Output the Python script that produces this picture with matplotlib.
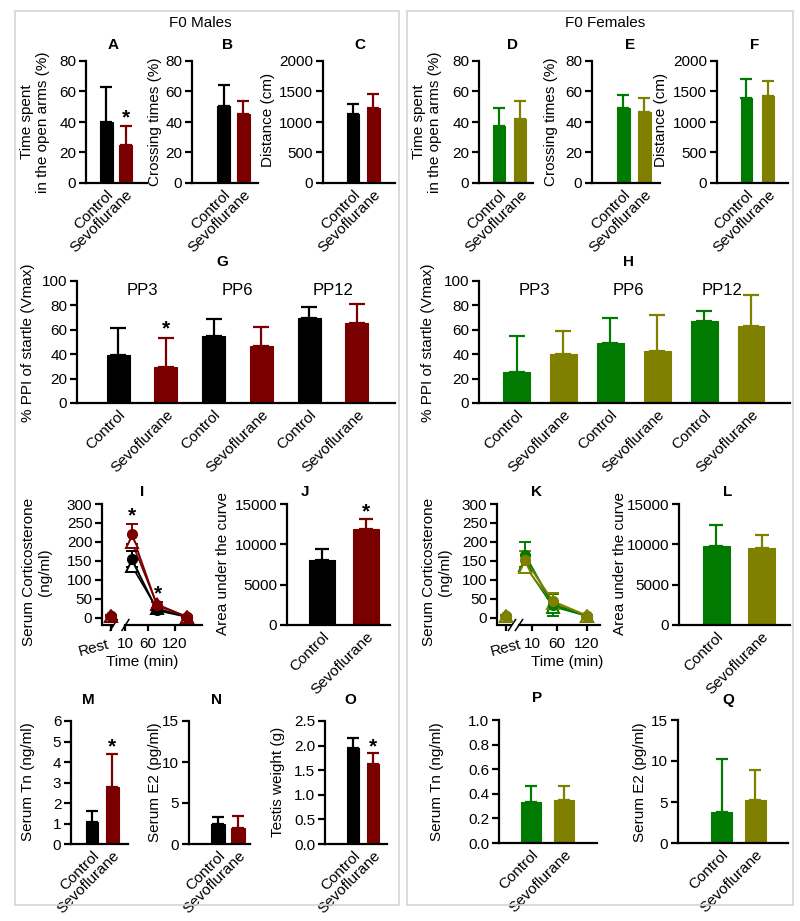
import matplotlib
matplotlib.use('Agg')
import matplotlib.pyplot as plt
from matplotlib.patches import Rectangle
import numpy as np

plt.rcParams['font.family'] = ['Liberation Sans', 'DejaVu Sans']
FS = 11
TFS = 11
plt.rcParams['font.size'] = FS

W, H = 800, 921
fig = plt.figure(figsize=(W / 100, H / 100), dpi=100)

BLACK = '#000000'
RED = '#7a0000'
GREEN = '#007a00'
OLIVE = '#7f7f00'

groups = ['Control', 'Sevoflurane']
groups6 = ['Control', 'Sevoflurane'] * 3
pp_labels = ['PP3', 'PP6', 'PP12']

# ---------------- data ----------------
a_mean = [39.8, 24.7]; a_err = [23.2, 12.7]
b_mean = [50.8, 45.1]; b_err = [13.2, 8.7]
c_mean = [1126, 1230]; c_err = [164, 234]
d_mean = [37.2, 41.7]; d_err = [12.2, 12.3]
e_mean = [49.0, 46.8]; e_err = [8.7, 8.9]
f_mean = [1388, 1421]; f_err = [317, 257]
g_mean = [39.4, 29.1, 54.9, 46.5, 69.8, 65.8]
g_err = [21.7, 24.4, 13.6, 15.5, 8.7, 15.2]
h_mean = [25.0, 40.5, 49.5, 42.7, 67.1, 63.0]
h_err = [30.2, 18.7, 20.1, 29.6, 8.4, 25.3]
j_mean = [8080, 11900]; j_err = [1320, 1200]
l_mean = [9820, 9530]; l_err = [2580, 1670]
m_mean = [1.07, 2.79]; m_err = [0.53, 1.62]
n_mean = [2.4, 2.0]; n_err = [0.84, 1.4]
o_mean = [1.96, 1.62]; o_err = [0.19, 0.22]
p_mean = [0.33, 0.35]; p_err = [0.135, 0.115]
q_mean = [3.77, 5.2]; q_err = [6.43, 3.7]

i_time = [-22, 24, 80, 147]
i_ctrl_mean = [5, 155, 20, 3]
i_ctrl_err = [3, 21, 6, 2]
i_sevo_mean = [5, 221, 33, 3]
i_sevo_err = [3, 26, 8, 2]
i_ctrl_tri = [4, 137, 25, 3]
i_sevo_tri = [4, 200, 36, 3]

k_time = [-42, -4, 52, 120]
k_ctrl_mean = [5, 166, 34, 6]
k_ctrl_err = [3, 33, 28, 3]
k_sevo_mean = [5, 153, 44, 6]
k_sevo_err = [3, 22, 22, 3]
k_ctrl_tri = [4, 139, 30, 5]
k_sevo_tri = [4, 135, 40, 5]

time_ticks = [10, 60, 120]


# ---------------- helpers ----------------
def px_axes(l, t, r, b):
    return fig.add_axes([l / W, 1 - b / H, (r - l) / W, (b - t) / H])


def ftext(x, y, s, **kw):
    fig.text(x / W, 1 - y / H, s, ha='center', va='center', **kw)


def style(ax):
    for s in ('top', 'right'):
        ax.spines[s].set_visible(False)
    for s in ('left', 'bottom'):
        ax.spines[s].set_linewidth(1.6)
    ax.tick_params(axis='y', direction='out', length=5, width=1.6,
                   labelsize=TFS, pad=2)
    ax.tick_params(axis='x', length=0, labelsize=TFS, pad=3)
    ax.patch.set_alpha(0)


def star(ax, x, y):
    ax.text(x, y, '*', ha='center', va='center', fontsize=15,
            fontweight='bold', clip_on=False)


def bar_panel(box, xlim, width, means, errs, colors, ylim, yticks,
              labels, capsize=4, yticklabels=None):
    ax = px_axes(*box)
    x = np.arange(len(means))
    ax.bar(x, means, width, color=colors, edgecolor=colors, linewidth=0.8,
           zorder=2)
    for xi, m, e, c in zip(x, means, errs, colors):
        ax.errorbar([xi], [m], yerr=[[0], [e]], fmt='none', ecolor=c,
                    elinewidth=1.6, capsize=capsize, capthick=1.6, zorder=1,
                    clip_on=False)
    ax.set_xlim(*xlim)
    ax.set_ylim(*ylim)
    ax.set_yticks(yticks)
    if yticklabels is not None:
        ax.set_yticklabels(yticklabels)
    style(ax)
    ax.set_xticks(x)
    ax.set_xticklabels(labels, rotation=45, ha='right',
                       rotation_mode='anchor')
    return ax


def line_panel(box, xlim, ylim, times, series, rest_ha, break_segs):
    ax = px_axes(*box)
    for mean, err, tri, col in series:
        ax.plot(times[1:], tri[1:], color=col, lw=1.2, zorder=2)
        ax.plot(times[1:], mean[1:], color=col, lw=1.4, zorder=3)
        ax.errorbar(times, mean, yerr=err, fmt='none', ecolor=col,
                    elinewidth=1.4, capsize=4, capthick=1.4, zorder=3)
        ax.plot(times, tri, linestyle='none', marker='^', markersize=8,
                markerfacecolor='white', markeredgecolor=col,
                markeredgewidth=1.4, zorder=4)
        ax.plot(times, mean, linestyle='none', marker='o', markersize=7,
                color=col, zorder=5)
    ax.set_xlim(*xlim)
    ax.set_ylim(*ylim)
    ax.set_yticks(np.arange(0, 301, 50))
    style(ax)
    ax.tick_params(axis='x', length=4, width=1.6, pad=5)
    ax.set_xticks([times[0]] + time_ticks)
    ax.set_xticklabels(['Rest'] + [str(t) for t in time_ticks])
    lab = ax.get_xticklabels()[0]
    lab.set_rotation(15)
    lab.set_ha(rest_ha)
    lab.set_va('top')
    # broken x-axis
    (s0, s1), (l0, l1) = break_segs
    ax.spines['bottom'].set_bounds(l0, l1)
    y0 = ylim[0]
    ax.plot([s0, s1], [y0, y0], color='k', lw=1.6, clip_on=False,
            solid_capstyle='butt')
    dx = (xlim[1] - xlim[0]) * 0.035
    dy = (ylim[1] - ylim[0]) * 0.045
    for xb in (s1, l0):
        ax.plot([xb - dx, xb + dx], [y0 - dy, y0 + dy], color='k', lw=1.1,
                clip_on=False)
    return ax


# ---------------- boxes ----------------
for (l, r) in [(15, 399), (407, 793)]:
    fig.add_artist(Rectangle((l / W, 1 - 905 / H), (r - l) / W, (905 - 11) / H,
                             transform=fig.transFigure, fill=False,
                             edgecolor='#d4d4d4', lw=1.2))
ftext(200, 23, 'F0 Males', fontsize=FS)
ftext(605, 23, 'F0 Females', fontsize=FS)

# ---------------- top row ----------------
mc = [BLACK, RED]
fc = [GREEN, OLIVE]
ax = bar_panel((86, 61, 147, 183), (-1.03, 2.1), 0.67, a_mean, a_err, mc,
               (0, 80), range(0, 81, 20), groups)
star(ax, 1, 42.5)
ax = bar_panel((192, 61, 258, 183), (-1.58, 1.73), 0.65, b_mean, b_err, mc,
               (0, 80), range(0, 81, 20), groups)
ax = bar_panel((323, 61, 395, 183), (-1.46, 2.05), 0.6, c_mean, c_err, mc,
               (0, 2000), range(0, 2001, 500), groups)
ax = bar_panel((479, 61, 533, 183), (-0.95, 1.62), 0.6, d_mean, d_err, fc,
               (0, 80), range(0, 81, 20), groups)
ax = bar_panel((592, 61, 660, 183), (-1.48, 1.76), 0.62, e_mean, e_err, fc,
               (0, 80), range(0, 81, 20), groups)
ax = bar_panel((717, 61, 788, 183), (-1.37, 1.93), 0.55, f_mean, f_err, fc,
               (0, 2000), range(0, 2001, 500), groups)

for t, x in zip('ABCDEF', [113, 228, 360, 513, 630, 755]):
    ftext(x, 45, t, fontsize=FS, fontweight='bold')
ftext(35, 122, 'Time spent\nin the open arms (%)', rotation=90, fontsize=FS,
      linespacing=1.15)
ftext(155, 122, 'Crossing times (%)', rotation=90, fontsize=FS)
ftext(268, 120, 'Distance (cm)', rotation=90, fontsize=FS)
ftext(427, 122, 'Time spent\nin the open arms (%)', rotation=90, fontsize=FS,
      linespacing=1.15)
ftext(551, 122, 'Crossing times (%)', rotation=90, fontsize=FS)
ftext(661, 120, 'Distance (cm)', rotation=90, fontsize=FS)

# ---------------- G / H ----------------
ax = bar_panel((77, 281, 395, 403), (-0.86, 5.8), 0.48, g_mean, g_err, mc * 3,
               (0, 100), range(0, 101, 20), groups6, capsize=6)
for i, s in enumerate(pp_labels):
    ax.text(2 * i + 0.5, 92, s, ha='center', va='center', fontsize=12)
star(ax, 1, 60.5)
ax = bar_panel((479, 281, 790, 403), (-0.8, 5.83), 0.57, h_mean, h_err, fc * 3,
               (0, 100), range(0, 101, 20), groups6, capsize=6)
for i, s in enumerate(pp_labels):
    ax.text(2 * i + 0.38, 92, s, ha='center', va='center', fontsize=12)
ftext(222, 262, 'G', fontsize=FS, fontweight='bold')
ftext(628, 262, 'H', fontsize=FS, fontweight='bold')
ftext(28, 343, '% PPI of startle (Vmax)', rotation=90, fontsize=FS)
ftext(428, 343, '% PPI of startle (Vmax)', rotation=90, fontsize=FS)

# ---------------- I / J / K / L ----------------
ax = line_panel((102, 504, 202, 625), (-42, 180), (-18.5, 300), i_time,
                [(i_ctrl_mean, i_ctrl_err, i_ctrl_tri, BLACK),
                 (i_sevo_mean, i_sevo_err, i_sevo_tri, RED)],
                'right', ((-42, -16), (10, 180)))
star(ax, i_time[1], 268)
star(ax, i_time[2] + 3, 64)
ax = line_panel((497, 504, 600, 625), (-60, 146), (-18.5, 300), k_time,
                [(k_ctrl_mean, k_ctrl_err, k_ctrl_tri, GREEN),
                 (k_sevo_mean, k_sevo_err, k_sevo_tri, OLIVE)],
                'center', ((-60, -30), (-16, 146)))

ax = bar_panel((287, 504, 390, 625), (-0.8, 1.55), 0.59, j_mean, j_err, mc,
               (0, 15000), range(0, 15001, 5000), groups, capsize=5)
star(ax, 1, 14000)
ax = bar_panel((679, 504, 790, 625), (-0.83, 1.63), 0.6, l_mean, l_err, fc,
               (0, 15000), range(0, 15001, 5000), groups, capsize=5)

for t, x in zip('IJKL', [142, 305, 537, 728]):
    ftext(x, 492, t, fontsize=FS, fontweight='bold')
ftext(37, 572, 'Serum Corticosterone\n(ng/ml)', rotation=90, fontsize=FS,
      linespacing=1.15)
ftext(437, 572, 'Serum Corticosterone\n(ng/ml)', rotation=90, fontsize=FS,
      linespacing=1.15)
ftext(223, 563, 'Area under the curve', rotation=90, fontsize=FS)
ftext(620, 563, 'Area under the curve', rotation=90, fontsize=FS)
ftext(142, 662, 'Time (min)', fontsize=FS)
ftext(567, 662, 'Time (min)', fontsize=FS)

# ---------------- bottom row ----------------
ax = bar_panel((71, 721, 128, 844), (-1.02, 1.76), 0.6, m_mean, m_err, mc,
               (0, 6), range(0, 7), groups)
star(ax, 1, 4.75)
ax = bar_panel((189, 721, 250, 844), (-1.45, 1.6), 0.7, n_mean, n_err, mc,
               (0, 15), range(0, 16, 5), groups)
ax = bar_panel((325, 721, 387, 844), (-1.4, 1.7), 0.6, o_mean, o_err, mc,
               (0, 2.5), np.arange(0, 2.51, 0.5), groups,
               yticklabels=['0.0', '0.5', '1.0', '1.5', '2.0', '2.5'])
star(ax, 1, 1.97)
ax = bar_panel((499, 720, 597, 843), (-0.97, 2.0), 0.6, p_mean, p_err, fc,
               (0, 1.0), np.arange(0, 1.01, 0.2), groups,
               yticklabels=['0.0', '0.2', '0.4', '0.6', '0.8', '1.0'])
ax = bar_panel((678, 720, 788, 843), (-1.3, 1.98), 0.62, q_mean, q_err, fc,
               (0, 15), range(0, 16, 5), groups)

for t, x, y in zip('MNOPQ', [88, 216, 350, 537, 728],
                   [700, 700, 700, 698, 700]):
    ftext(x, y, t, fontsize=FS, fontweight='bold')
ftext(28, 782, 'Serum Tn (ng/ml)', rotation=90, fontsize=FS)
ftext(155, 782, 'Serum E2 (pg/ml)', rotation=90, fontsize=FS)
ftext(278, 782, 'Testis weight (g)', rotation=90, fontsize=FS)
ftext(437, 782, 'Serum Tn (ng/ml)', rotation=90, fontsize=FS)
ftext(640, 782, 'Serum E2 (pg/ml)', rotation=90, fontsize=FS)

fig.savefig('out.png', dpi=100)
